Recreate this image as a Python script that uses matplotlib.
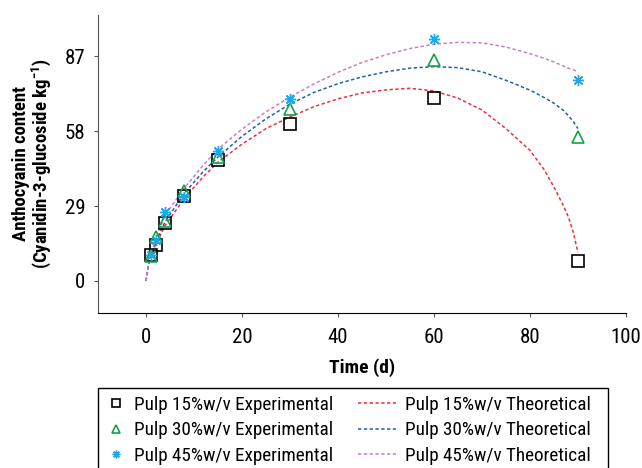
import numpy as np
import matplotlib.pyplot as plt
from matplotlib.patches import Rectangle

plt.rcParams['font.family'] = ['Roboto Condensed', 'DejaVu Sans']
plt.rcParams['mathtext.fontset'] = 'custom'
plt.rcParams['mathtext.rm'] = 'Roboto Condensed'
plt.rcParams['mathtext.bf'] = 'Roboto Condensed:bold'

# experimental data
t_exp = [1, 2, 4, 8, 15, 30, 60, 90]
pulp15 = [10.0, 13.8, 22.4, 33.0, 47.0, 60.7, 70.8, 7.7]
pulp30 = [9.8, 17.0, 23.2, 35.0, 48.0, 66.5, 85.5, 55.7]
pulp45 = [10.0, 16.0, 26.7, 32.5, 50.3, 70.4, 93.6, 77.7]

# theoretical curves
t_th = [0, 0.5, 1, 2, 4, 8, 12, 15, 20, 25, 30, 35, 40, 45, 50, 55, 60, 65, 70, 75, 80, 83, 85, 87, 88, 89, 90]
th15 = [0, 5.5, 9.4, 14.0, 21.5, 32.0, 40.5, 46.0, 53.0, 59.0, 63.5, 67.5, 70.5, 72.8, 74.0, 74.6, 73.6, 70.8, 66.2, 59.0, 50.6, 43.0, 36.4, 29.0, 24.8, 19.0, 11.0]
th30 = [0, 5.8, 9.8, 15.0, 23.0, 34.0, 42.5, 48.0, 56.0, 62.8, 68.5, 73.0, 76.4, 79.0, 81.0, 82.4, 83.0, 82.6, 81.0, 77.7, 73.9, 71.0, 68.8, 66.0, 64.0, 61.8, 59.0]
th45 = [0, 6.0, 10.0, 15.8, 25.5, 36.0, 45.0, 51.0, 58.8, 65.5, 71.2, 76.3, 80.8, 84.6, 87.6, 90.0, 91.7, 92.4, 92.2, 90.6, 88.0, 86.2, 84.8, 83.2, 82.4, 81.8, 81.0]

fig = plt.figure(figsize=(6.42, 4.68), dpi=100)
ax = fig.add_axes([0.1526, 0.3312, 0.8224, 0.6368])

dot = (0, (2.2, 1.6))
e1, = ax.plot(t_exp, pulp15, 's', mfc='none', mec='black', ms=8, mew=1.2, label="Pulp 15%w/v Experimental", zorder=3)
e2, = ax.plot(t_exp, pulp30, '^', mfc='none', mec='#16a04b', ms=9, mew=1.2, label="Pulp 30%w/v Experimental", zorder=3)
e3, = ax.plot(t_exp, pulp45, marker=(8, 2, 0), ls='none', mec='#1ea7ea', ms=8, mew=1.0, label="Pulp 45%w/v Experimental", zorder=3)
l1, = ax.plot(t_th, th15, color='#e8343c', ls=dot, lw=1.1, label="Pulp 15%w/v Theoretical")
l2, = ax.plot(t_th, th30, color='#1d5fb0', ls=dot, lw=1.1, label="Pulp 30%w/v Theoretical")
l3, = ax.plot(t_th, th45, color='#d07cc0', ls=dot, lw=1.1, label="Pulp 45%w/v Theoretical")

ax.set_xlim(-10, 100)
ax.set_ylim(-12.4, 103)
ax.set_xticks([0, 20, 40, 60, 80, 100])
ax.set_yticks([0, 29, 58, 87])
ax.spines['top'].set_visible(False)
ax.spines['right'].set_visible(False)
ax.spines['left'].set_color('#555555')
ax.tick_params(axis='both', labelsize=15, length=3, color='#555555')
ax.tick_params(axis='x', pad=8)
ax.tick_params(axis='y', pad=6)

ax.set_xlabel("Time (d)", fontsize=14, fontweight='bold', labelpad=8)
ax.set_ylabel("Anthocyanin content\n(Cyanidin-3-glucoside kg$^{\\mathbf{-1}}$)", fontsize=13.5,
              fontweight='bold', linespacing=1.0, labelpad=8)

# legend: two columns drawn as two legends inside one frame
top = 1 - 386 / 468
common = dict(fontsize=13.8, frameon=False, labelspacing=0.4, borderpad=0.0,
              handletextpad=0.5, loc='upper left')
leg1 = fig.legend([e1, e2, e3], [e1.get_label(), e2.get_label(), e3.get_label()],
                  bbox_to_anchor=(98 / 642, top), handlelength=0.9, markerscale=0.7, **common)
leg2 = fig.legend([l1, l2, l3], [l1.get_label(), l2.get_label(), l3.get_label()],
                  bbox_to_anchor=(348 / 642, top), handlelength=2.0, **common)
fig.add_artist(Rectangle((98 / 642, -0.05), 510 / 642, (468 - 388) / 468 + 0.05,
                         transform=fig.transFigure, fill=False, edgecolor='black', lw=1.0))

plt.savefig('out.png', dpi=100)
plt.close(fig)
